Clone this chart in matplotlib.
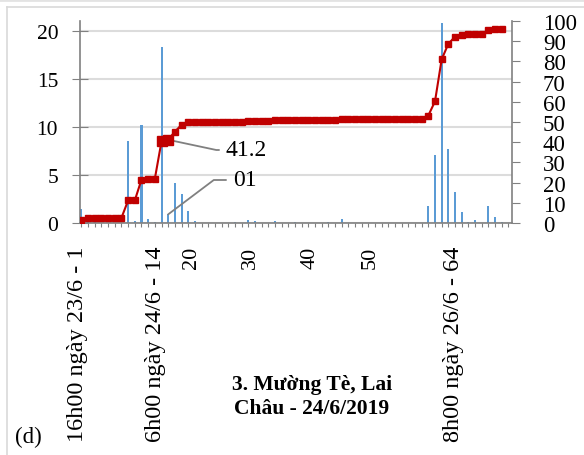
import matplotlib
matplotlib.use("Agg")
import matplotlib.pyplot as plt
from matplotlib.lines import Line2D
import numpy as np

plt.rcParams['font.family'] = ['Liberation Serif', 'DejaVu Serif']

# lượng mưa từng giờ (mm) - trục trái
rain = [1.5, 0.8, 0.3, 0, 0, 0, 0, 8.5, 0.2, 10.2,
        0.4, 0.1, 18.3, 0.9, 4.2, 3.0, 1.2, 0.2, 0, 0,
        0, 0, 0, 0.1, 0, 0.3, 0.2, 0, 0, 0.2,
        0, 0, 0.1, 0, 0, 0, 0, 0.1, 0, 0.4,
        0, 0, 0, 0, 0, 0, 0, 0, 0, 0,
        0, 0, 1.8, 7.1, 20.8, 7.7, 3.2, 1.1, 0.1, 0.3,
        0, 1.8, 0.6, 0.1]
# lượng mưa lũy tích (mm) - trục phải
cumul = [1.5, 2.4, 2.6, 2.6, 2.6, 2.6, 2.6, 11.2, 11.2, 21.5,
         21.9, 21.9, 40.4, 41.2, 45.2, 48.6, 49.8, 50.0, 50.0, 50.0,
         50.0, 50.0, 50.0, 50.1, 50.1, 50.4, 50.6, 50.6, 50.6, 50.8,
         50.8, 50.8, 50.9, 50.9, 50.9, 50.9, 50.9, 51.0, 51.0, 51.4,
         51.4, 51.4, 51.4, 51.4, 51.4, 51.4, 51.4, 51.4, 51.4, 51.4,
         51.4, 51.4, 53.2, 60.2, 81.0, 88.7, 92.2, 93.3, 93.4, 93.6,
         93.6, 95.4, 95.9, 96.0]
hours = np.arange(1, len(rain) + 1)

tick_pos = [1, 14, 20, 30, 40, 50, 64]
tick_lab = ["16h00 ngày 23/6 - 1", "6h00 ngày 24/6 - 14", "20", "30", "40", "50",
            "8h00 ngày 26/6 - 64"]
hl = [13, 14]  # điểm được làm nổi

W, H = 584, 456
fig = plt.figure(figsize=(W / 100, H / 100), dpi=100)

ax = fig.add_axes([80 / W, 1 - 224 / H, (511.7 - 80) / W, (224 - 22) / H])
ax.bar(hours, rain, width=0.3, color='#5B9BD5', zorder=2)
ax.set_xlim(0.78, 65.5)
ax.set_ylim(0, 21.04)
ax.set_yticks([0, 5, 10, 15, 20])
ax.grid(axis='y', color='#DCDCDC', lw=1.5, zorder=0)
ax.set_xticks(np.arange(1, 66))
ax.set_xticklabels([])
ax.tick_params(axis='x', direction='out', length=3, color='#808080')
ax.tick_params(axis='y', direction='inout', length=11.5, pad=10, color='#808080',
               labelsize=15.5)
for s in ['top', 'right']:
    ax.spines[s].set_visible(False)
for s in ['left', 'bottom']:
    ax.spines[s].set_color('#808080')
    ax.spines[s].set_linewidth(1.2)

ax2 = ax.twinx()
ax2.plot(hours, cumul, color='#C00000', lw=1.5, marker='s', ms=4.2, zorder=3)
idx = [h - 1 for h in hl]
ax2.plot([hours[i] for i in idx], [cumul[i] for i in idx], ls='none', marker='s',
         ms=7.5, color='#C00000', zorder=4)
ax2.set_ylim(0, 100)
ax2.set_yticks(np.arange(0, 101, 10))
ax2.tick_params(axis='y', direction='out', length=5.5, pad=17, color='#808080',
                labelsize=16.5)
for s in ['top', 'left', 'bottom']:
    ax2.spines[s].set_visible(False)
ax2.spines['right'].set_color('#808080')
ax2.spines['right'].set_linewidth(1.2)

# nhãn chú thích
ax2.annotate("41.2", xy=(14, 41.2), xytext=(226, H - 151), textcoords='figure pixels',
             ha='left', va='center', fontsize=17,
             arrowprops=dict(arrowstyle='-', color='#808080', lw=1.3, shrinkA=3, shrinkB=0,
                             connectionstyle='angle,angleA=0,angleB=-12,rad=0'))
ax.annotate("01", xy=(14, 0.9), xytext=(233, H - 181), textcoords='figure pixels',
            ha='left', va='center', fontsize=17,
            arrowprops=dict(arrowstyle='-', color='#808080', lw=1.3, shrinkA=3, shrinkB=0,
                            connectionstyle='angle,angleA=0,angleB=37,rad=0'))

# nhãn trục x xoay dọc
axl = fig.add_axes([77.5 / W, 1 - 247 / H, (454 - 77.5) / W, 0.001])
axl.set_xlim(1, 64)
axl.set_xticks(tick_pos)
axl.set_xticklabels(tick_lab, rotation=90)
for t in axl.get_xticklabels():
    t.set_fontsize(17.5 if len(t.get_text()) > 3 else 16)
axl.tick_params(axis='x', length=0, pad=0)
axl.set_yticks([])
axl.patch.set_visible(False)
for s in axl.spines.values():
    s.set_visible(False)

fig.text(312 / W, 1 - 397 / H, "3. Mường Tè, Lai\nChâu - 24/6/2019", ha='center',
         va='center', fontsize=15.5, fontweight='bold', linespacing=1.25)
fig.text(28 / W, 1 - 437 / H, "(d)", ha='center', va='center', fontsize=16.5)

# khung viền
fig.add_artist(Line2D([7 / W, 7 / W], [0, 1 - 8 / H], color='#D9D9D9', lw=1.2))
fig.add_artist(Line2D([7 / W, 1], [1 - 8 / H, 1 - 8 / H], color='#D9D9D9', lw=1.2))
fig.add_artist(Line2D([0, 1], [1 - 1 / H, 1 - 1 / H], color='#E3E3E3', lw=2))

fig.savefig("out.png", dpi=100)
